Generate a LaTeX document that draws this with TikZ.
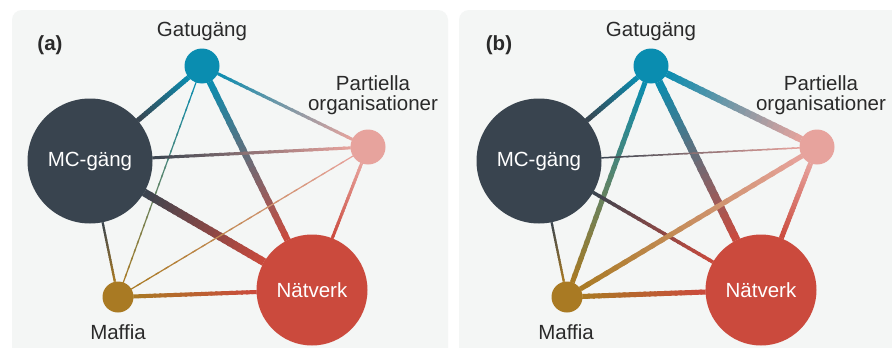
\documentclass[tikz,border=0pt]{standalone}
\usepackage{fontspec}
\setmainfont{Liberation Sans}
\usetikzlibrary{calc}

\pgfdeclarelayer{bg}
\pgfdeclarelayer{edges}
\pgfsetlayers{bg,edges,main}

\definecolor{panel}{HTML}{F4F6F5}
\definecolor{gata}{HTML}{0A8DB0}
\definecolor{mc}{HTML}{39444F}
\definecolor{part}{HTML}{E7A39D}
\definecolor{natv}{HTML}{CB4A3D}
\definecolor{maff}{HTML}{A97A23}
\definecolor{ink}{HTML}{2A2A2A}

\tikzset{
  panelbox/.style={fill=panel, rounded corners=10pt},
  actor/.style={circle, inner sep=0pt, minimum size=#1},
  tag/.style={text=ink, align=center},
}

% tie from node #1 to node #2, width #3 (pt), colour #4 fading into #5
\newcommand{\tie}[5]{%
  \path (#1) -- (#2) coordinate[pos=0] (ta) coordinate[pos=1] (tb);
  \draw[line width=#3pt, #4] (#1.center) -- (ta);
  \draw[line width=#3pt, #5] (tb) -- (#2.center);
  \foreach \i in {1,...,24}{
    \pgfmathsetmacro\tiea{(\i-1)/24}
    \pgfmathsetmacro\tieb{min(1,(\i+0.4)/24)}
    \pgfmathsetmacro\tiemix{100-(\i-0.5)*100/24}
    \draw[line width=#3pt, color=#4!\tiemix!#5] ($(ta)!\tiea!(tb)$) -- ($(ta)!\tieb!(tb)$);
  }
}

\begin{document}
\begin{tikzpicture}[x=1pt, y=-1pt, font=\fontsize{20.5}{20}\selectfont]

\useasboundingbox (0,0) rectangle (892,348);

\begin{pgfonlayer}{bg}
  \fill[white] (0,0) rectangle (892,348);
  \fill[panelbox] (12,370) |- (448,10) -- (448,370) -- cycle;
  \fill[panelbox] (459,370) |- (905,10) -- (905,370) -- cycle;
\end{pgfonlayer}

% (a)
\node[actor=35pt, fill=gata] (ga) at (202,66) {};
\node[actor=125pt, fill=mc, text=white] (mca) at (90,161) {MC-gäng};
\node[actor=35pt, fill=part] (pa) at (368,147) {};
\node[actor=111pt, fill=natv, text=white] (na) at (312,290) {Nätverk};
\node[actor=31pt, fill=maff] (ma) at (118,297) {};

\node[tag, font=\fontsize{20.5}{20}\selectfont\bfseries] (lbla) at (50,45) {(a)};
\node[tag] (tga) at (202,31) {Gatugäng};
\node[tag] (tpa) at (373,95) {Partiella\\organisationer};
\node[tag] (tma) at (118,332) {Maffia};

\begin{pgfonlayer}{edges}
  \tie{ga}{mca}{5}{gata}{mc}
  \tie{ga}{pa}{3}{gata}{part}
  \tie{ga}{na}{6.5}{gata}{natv}
  \tie{ga}{ma}{1.2}{gata}{maff}
  \tie{mca}{pa}{3}{mc}{part}
  \tie{mca}{na}{8}{mc}{natv}
  \tie{mca}{ma}{2.2}{mc}{maff}
  \tie{pa}{ma}{1.2}{part}{maff}
  \tie{pa}{na}{3}{part}{natv}
  \tie{ma}{na}{4}{maff}{natv}
\end{pgfonlayer}

% (b)
\node[actor=35pt, fill=gata] (gb) at (651,66) {};
\node[actor=125pt, fill=mc, text=white] (mcb) at (539,161) {MC-gäng};
\node[actor=35pt, fill=part] (pb) at (817,147) {};
\node[actor=111pt, fill=natv, text=white] (nb) at (761,290) {Nätverk};
\node[actor=31pt, fill=maff] (mb) at (567,297) {};

\node[tag, font=\fontsize{20.5}{20}\selectfont\bfseries] (lblb) at (499,45) {(b)};
\node[tag] (tgb) at (651,31) {Gatugäng};
\node[tag] (tpb) at (821,95) {Partiella\\organisationer};
\node[tag] (tmb) at (566,332) {Maffia};

\begin{pgfonlayer}{edges}
  \tie{gb}{mcb}{5}{gata}{mc}
  \tie{gb}{pb}{7}{gata}{part}
  \tie{gb}{nb}{8}{gata}{natv}
  \tie{gb}{mb}{5}{gata}{maff}
  \tie{mcb}{pb}{1.5}{mc}{part}
  \tie{mcb}{nb}{3.5}{mc}{natv}
  \tie{mcb}{mb}{2.2}{mc}{maff}
  \tie{pb}{mb}{5}{part}{maff}
  \tie{pb}{nb}{5}{part}{natv}
  \tie{mb}{nb}{5}{maff}{natv}
\end{pgfonlayer}

\end{tikzpicture}
\end{document}
